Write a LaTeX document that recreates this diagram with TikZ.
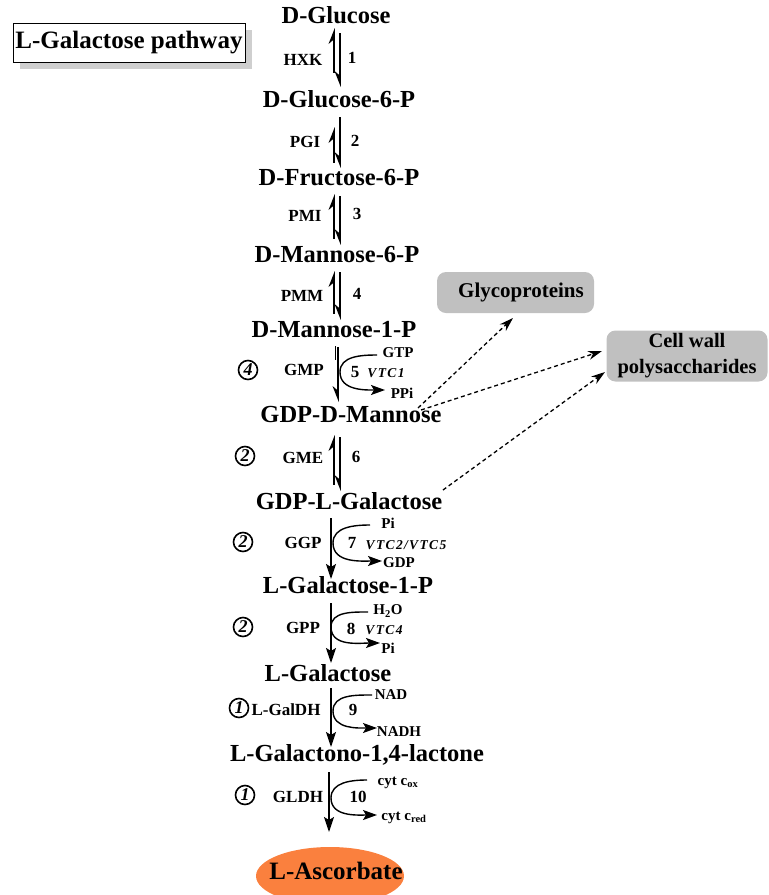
\documentclass[tikz,border=0pt]{standalone}
\usepackage{fontspec}
\setmainfont{Liberation Serif}
\usetikzlibrary{arrows.meta,shapes.geometric}
\definecolor{boxgray}{RGB}{192,192,192}
\definecolor{ascorb}{RGB}{250,128,62}
% harpoon with barb on the left: x, y of tip, y of tail
\newcommand{\harpUp}[3]{%
  \draw[line width=1.6pt] (#1,#2+8) -- (#1,#3);
  \fill (#1+0.8,#2) -- (#1-5.5,#2+16) -- (#1-0.8,#2+12) -- (#1+0.8,#2+12) -- cycle;}
\newcommand{\harpDn}[3]{%
  \draw[line width=1.6pt] (#1,#3) -- (#1,#2-8);
  \fill (#1+0.8,#2) -- (#1-5.5,#2-16) -- (#1-0.8,#2-12) -- (#1+0.8,#2-12) -- cycle;}
\begin{document}
\begin{tikzpicture}[x=1pt,y=-1pt,
 met/.style={font=\fontsize{24.5}{28}\selectfont\bfseries, inner sep=0pt},
 enz/.style={font=\fontsize{17}{19}\selectfont\bfseries, inner sep=0pt},
 num/.style={font=\fontsize{17}{19}\selectfont\bfseries, inner sep=0pt},
 cof/.style={font=\fontsize{15}{17}\selectfont\bfseries, inner sep=0pt},
 gene/.style={font=\fontsize{13.5}{16}\selectfont\bfseries\itshape\addfontfeatures{LetterSpace=10}, inner sep=0pt},
 circ/.style={circle, draw, line width=1.6pt, minimum size=19pt, inner sep=0pt, font=\fontsize{18}{19}\selectfont\bfseries\itshape},
 stepar/.style={line width=1.6pt, -{Stealth[length=15pt, width=10pt, inset=3pt]}},
 side/.style={line width=1.4pt, -{Stealth[length=14pt, width=10pt, inset=3pt]}},
 fluxdash/.style={line width=1.3pt, dash pattern=on 4pt off 3pt, -{Stealth[length=14pt, width=9pt]}},
 sink/.style={rounded corners=9pt, fill=boxgray, inner sep=0pt, font=\fontsize{20.5}{26}\selectfont\bfseries, align=center}
]
\clip (0,0) rectangle (769,895);

% title
\fill[gray!38] (20,30) rectangle (252,69);
\node[draw, line width=1pt, fill=white, minimum width=232pt, minimum height=39pt, inner sep=0pt,
  font=\fontsize{25}{28}\selectfont\bfseries] (title) at (129,42.5) {L-Galactose pathway};

% metabolites
\node[met] (glc)  at (336,15)  {D-Glucose};
\node[met] (g6p)  at (339,99)  {D-Glucose-6-P};
\node[met] (f6p)  at (339,178) {D-Fructose-6-P};
\node[met] (m6p)  at (337,255) {D-Mannose-6-P};
\node[met] (m1p)  at (334,330) {D-Mannose-1-P};
\node[met] (gdpm) at (351,415) {GDP-D-Mannose};
\node[met] (gdpg) at (349,501) {GDP-L-Galactose};
\node[met] (g1p)  at (348,585) {L-Galactose-1-P};
\node[met] (gal)  at (328,673) {L-Galactose};
\node[met] (lac)  at (357,755) {L-Galactono-1,4-lactone};
\node[ellipse, fill=ascorb, minimum width=148pt, minimum height=58pt, inner sep=0pt] (ascE) at (330,876) {};
\node[font=\fontsize{25}{28}\selectfont\bfseries, inner sep=0pt] (asc) at (336,871) {L-Ascorbate};

% sinks
\node[sink, minimum width=157pt, minimum height=41pt] (glycoB) at (515.5,292.5) {};
\node[font=\fontsize{21}{24}\selectfont\bfseries, inner sep=0pt] (glyco) at (521,292) {Glycoproteins};
\node[sink, minimum width=161pt, minimum height=51pt] (cwall) at (687,356) {Cell wall\\polysaccharides};

% reversible steps 1-4 and 6
\harpUp{334}{28}{73}
\harpDn{340}{87}{33}
\node[enz] (hxk) at (303,60) {HXK};
\node[num] (n1) at (352,58) {1};

\harpUp{334}{127}{163}
\harpDn{340}{168}{117}
\node[enz] (pgi) at (305,142) {PGI};
\node[num] (n2) at (355,141) {2};

\harpUp{334}{194}{239}
\harpDn{340}{245}{196}
\node[enz] (pmi) at (305,216) {PMI};
\node[num] (n3) at (357,214) {3};

\harpUp{334}{271}{314}
\harpDn{340}{320}{272}
\node[enz] (pmm) at (302,296) {PMM};
\node[num] (n4) at (357,294) {4};

\harpUp{334}{435}{485}
\harpDn{340}{491}{437}
\node[circ] (c6) at (245,456) {2};
\node[enz] (gme) at (303,458) {GME};
\node[num] (n6) at (356,457) {6};

% step 5
\draw[line width=0.8pt] (335,346) -- (335,360);
\harpDn{338}{402}{347}
\draw[side] (377,355) to[out=180,in=90] (340,372) to[out=-90,in=180] (385,390);
\node[circ] (c5) at (248,370) {4};
\node[enz] (gmp) at (304,370) {GMP};
\node[num] (n5) at (355,372) {5};
\node[gene] (vtc1) at (386,373) {VTC1};
\node[cof] (gtp) at (398,353) {GTP};
\node[cof] (ppi) at (402,393) {PPi};

% step 7
\draw[stepar] (331,518) -- (331,579);
\draw[side] (370,525) to[out=180,in=90] (333,543) to[out=-90,in=180] (382,561);
\node[circ] (c7) at (243,542) {2};
\node[enz] (ggp) at (303,543) {GGP};
\node[num] (n7) at (352,543) {7};
\node[gene] (vtc25) at (406,545) {VTC2/VTC5};
\node[cof] (pi7) at (388,523) {Pi};
\node[cof] (gdp7) at (399,563) {GDP};

% step 8
\draw[stepar] (331,603) -- (331,663);
\draw[side] (368,612) to[out=180,in=90] (331,627) to[out=-90,in=180] (380,643);
\node[circ] (c8) at (243,627) {2};
\node[enz] (gpp) at (303,628) {GPP};
\node[num] (n8) at (351,629) {8};
\node[gene] (vtc4) at (384,630) {VTC4};
\node[cof] (h2o) at (388,611) {H\textsubscript{2}O};
\node[cof] (pi8) at (388,648) {Pi};

% step 9
\draw[stepar] (331,688) -- (331,747);
\draw[side] (372,695) to[out=180,in=90] (333,711) to[out=-90,in=180] (377,728);
\node[circ] (c9) at (239,708) {1};
\node[enz] (galdh) at (286,710) {L-GalDH};
\node[num] (n9) at (353,710) {9};
\node[cof] (nad) at (391,695) {NAD};
\node[cof] (nadh) at (399,732) {NADH};

% step 10
\draw[stepar] (329,772) -- (329,832);
\draw[side] (367,780) to[out=180,in=90] (331,798) to[out=-90,in=180] (377,815);
\node[circ] (c10) at (245,795) {1};
\node[enz] (gldh) at (298,797) {GLDH};
\node[num] (n10) at (358,797) {10};
\node[cof] (cox) at (398,783) {cyt c\textsubscript{ox}};
\node[cof] (cred) at (404,818) {cyt c\textsubscript{red}};

% dashed fluxes
\coordinate (d1s) at (418,408);
\coordinate (d2s) at (421,410);
\coordinate (d3s) at (443,490);
\draw[fluxdash] (d1s) -- (513,318);
\draw[fluxdash] (d2s) -- (602,351);
\draw[fluxdash] (d3s) -- (605,372);
\end{tikzpicture}
\end{document}
